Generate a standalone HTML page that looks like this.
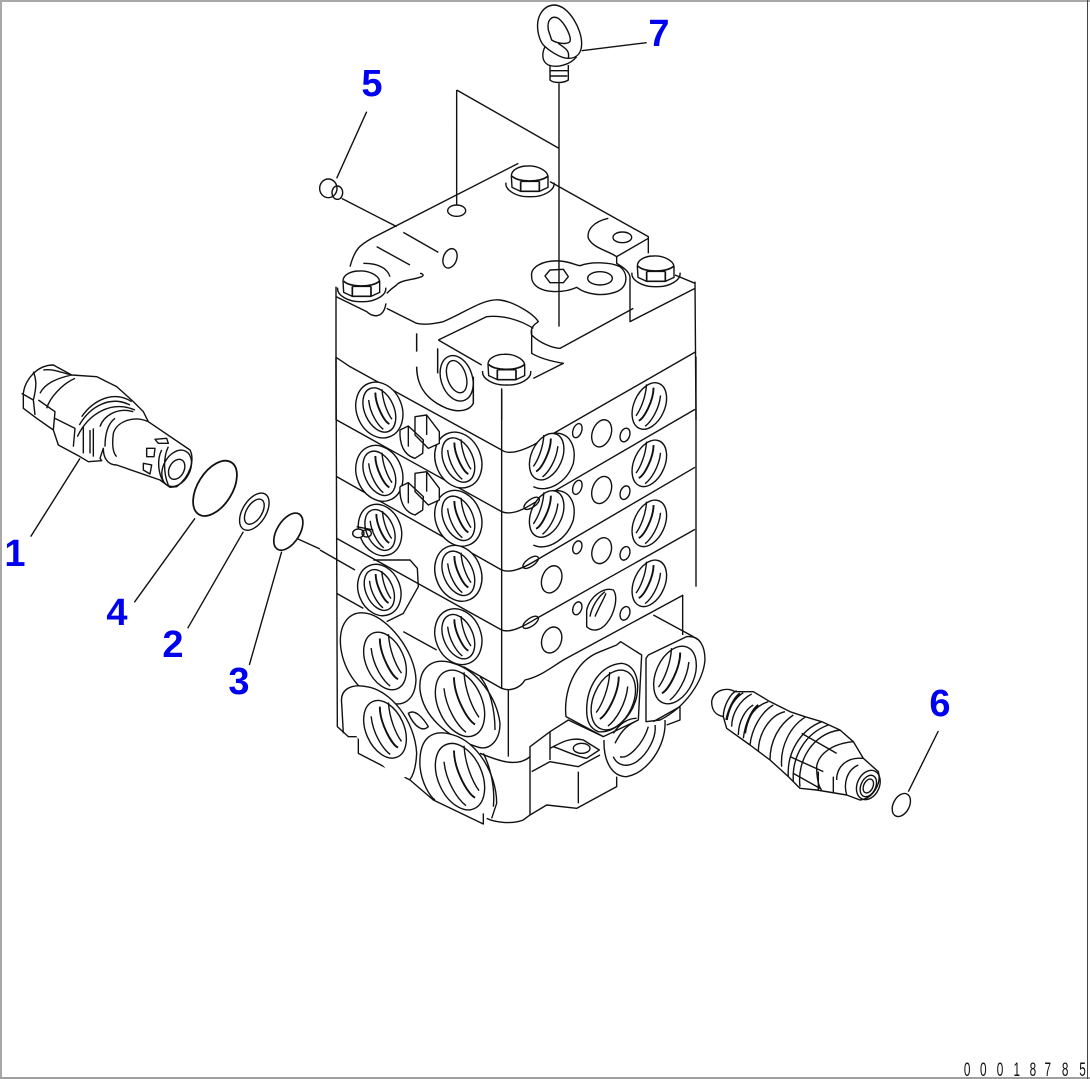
<!DOCTYPE html>
<html><head><meta charset="utf-8"><style>
html,body{margin:0;padding:0;background:#fff}
svg{display:block}
svg *{vector-effect:non-scaling-stroke}
.l{fill:none;stroke:#111;stroke-width:1.4px;stroke-linejoin:round}
.n{font-family:"Liberation Sans",sans-serif;font-weight:bold;font-size:38px;fill:#0000f0;text-anchor:middle}
</style></head><body>
<svg width="1090" height="1079" viewBox="0 0 1090 1079" xmlns="http://www.w3.org/2000/svg">
<defs>
<g id="I"><ellipse rx="44" ry="70" transform="rotate(-24)" fill="#fff"/><path d="M-32,-30 C-28,10 -5,45 12,58 M-12,-52 C-12,-15 15,35 30,42 M8,-62 C10,-25 25,10 38,28" /><path d="M-12,-52 C-12,-15 15,35 30,42" stroke-width="1.9px"/></g>
<g id="L"><ellipse rx="68" ry="86" transform="rotate(-22)" fill="#fff"/><use href="#I"/></g>
<g id="B"><path d="M-72,8 C-76,30 -40,52 0,50 C40,52 76,30 72,8" /><path fill="#fff" d="M-56,-12 C-56,-32 -30,-42 -8,-42 C20,-44 50,-30 54,-12 L54,22 L28,34 L-28,34 L-54,22Z"/><path d="M-54,-12 C-40,6 30,10 54,-12 M-28,4 L-28,34 M28,4 L28,34 M-28,4 L28,4 M-28,34 L28,34" stroke-width="1.7px"/></g>
</defs>
<rect width="1090" height="1079" fill="#fff"/>
<rect x="0" y="0" width="1090" height="2" fill="#a8a8a8"/>
<rect x="0" y="0" width="2" height="1079" fill="#a8a8a8"/>
<rect x="0" y="1077" width="1090" height="2" fill="#a0a0a0"/>
<rect x="1087" y="0" width="1" height="1079" fill="#444"/>

<g class="l">
<!-- BODY -->
<g transform="translate(320,360) scale(.33333)">
<path d="M48,-8 L52,1100 L85,1130 L115,1130 L115,1180 L270,1260 L340,1320 L490,1392 L490,1360 M500,1375 C520,1385 570,1395 610,1380 L630,1365 L680,1335 L770,1345 L890,1280 L890,1250"/>
<path d="M545,90 L545,985 M1128,-10 L1128,680 M1088,705 L1088,825"/>
<path d="M48,-8 L90,20 L545,270 C565,285 600,275 640,255 L1128,-25"/>
<path d="M50,180 L545,455 C570,465 600,455 640,430 L1125,148"/>
<path d="M50,350 L545,630 C570,640 610,625 650,600 L1125,322"/>
<path d="M50,535 L545,810 C570,820 610,800 650,775 L1125,508"/>
<path d="M50,700 L130,745 M250,815 L350,870 M430,920 L545,985 C570,995 600,985 615,960 C660,950 690,925 730,900 L1090,705"/>
<path d="M0,570 L105,630"/>
<path d="M1000,765 L1120,830"/>

<use href="#L" transform="translate(178,150)"/>
<use href="#L" transform="translate(178,340)"/>
<use href="#L" transform="translate(180,510) scale(.92)"/>
<use href="#L" transform="translate(178,690) scale(.92)"/>
<use href="#L" transform="translate(415,300)"/>
<use href="#L" transform="translate(415,475)"/>
<use href="#L" transform="translate(415,640)"/>
<use href="#L" transform="translate(415,830)"/>

<!-- big ports -->
<path fill="#fff" d="M62,860 C55,790 90,750 140,760 C200,770 285,870 288,960 C285,1020 250,1045 200,1025 C120,1010 70,930 62,860Z"/>
<use href="#I" transform="translate(195,903) scale(1.3)"/>
<path fill="#fff" stroke="none" d="M75,1030 C60,990 90,970 140,980 C210,990 285,1080 290,1180 C285,1240 260,1265 220,1250 L110,1130Z"/>
<path d="M70,1120 L65,1030 C60,990 90,970 140,980 C210,990 285,1080 290,1180 C288,1220 280,1245 270,1258"/>
<use href="#I" transform="translate(195,1108) scale(1.3)"/>
<path fill="#fff" d="M300,990 C295,920 340,890 400,910 C470,930 530,1010 540,1090 C540,1140 510,1175 470,1160 C380,1130 310,1070 300,990Z"/>
<path d="M480,950 C510,985 525,1050 525,1110"/>
<use href="#I" transform="translate(420,1030) scale(1.5)"/>
<path fill="#fff" d="M300,1220 C295,1130 340,1105 400,1125 C470,1145 530,1240 530,1330 L515,1375 M300,1220 C305,1270 330,1310 345,1320"/>
<path d="M490,1180 C515,1230 525,1290 520,1340"/>
<use href="#I" transform="translate(420,1250) scale(1.5)"/>
<path d="M265,1060 C285,1045 310,1075 325,1100 C310,1115 285,1105 265,1060Z"/>

<!-- left small fittings -->
<path fill="#fff" d="M240,210 L265,198 L310,240 L308,280 L285,295 C250,285 238,250 240,210 M285,170 L320,165 L358,215 L358,250 L325,265 L285,225Z"/>
<path d="M265,198 L265,260 M320,165 L320,225"/>
<path fill="#fff" d="M240,380 L265,368 L310,410 L308,450 L285,465 C250,455 238,420 240,380 M285,340 L320,335 L358,385 L358,420 L325,435 L285,395Z"/>
<path d="M265,368 L265,430 M320,335 L320,395"/>
<path d="M110,500 L160,510"/>
<ellipse cx="115" cy="520" rx="17" ry="13" fill="#fff"/>
<ellipse cx="140" cy="520" rx="14" ry="11"/>
<path d="M160,600 L270,600 L292,625 L295,680 L250,760 L200,785"/>

<!-- right face ports -->
<use href="#I" transform="translate(988,138) scale(-1.05,1.05)"/>
<use href="#I" transform="translate(988,310) scale(-1.05,1.05)"/>
<use href="#I" transform="translate(988,490) scale(-1.05,1.05)"/>
<use href="#I" transform="translate(988,670) scale(-1.05,1.05)"/>
<use href="#I" transform="translate(680,290) scale(-1.05,1.05)"/>
<use href="#I" transform="translate(680,462) scale(-1.05,1.05)"/>
<path d="M700,220 C750,215 770,260 760,310 C740,370 680,400 640,380 M700,392 C750,387 770,430 760,480 C740,540 680,575 640,555"/>
<path fill="#fff" d="M800,800 L800,750 C810,710 850,680 880,690 C895,710 885,760 860,790 C840,815 815,815 800,800Z"/>
<path d="M810,770 C815,740 835,710 855,695 M825,770 C835,745 850,720 858,700"/>
<g>
<ellipse cx="845" cy="220" rx="28" ry="42" transform="rotate(20 845 220)"/>
<ellipse cx="915" cy="225" rx="14" ry="21" transform="rotate(20 915 225)"/>
<ellipse cx="772" cy="212" rx="13" ry="22" transform="rotate(20 772 212)"/>
<ellipse cx="845" cy="390" rx="28" ry="42" transform="rotate(20 845 390)"/>
<ellipse cx="915" cy="398" rx="14" ry="21" transform="rotate(20 915 398)"/>
<ellipse cx="772" cy="382" rx="13" ry="22" transform="rotate(20 772 382)"/>
<ellipse cx="845" cy="572" rx="28" ry="40" transform="rotate(20 845 572)"/>
<ellipse cx="915" cy="580" rx="14" ry="21" transform="rotate(20 915 580)"/>
<ellipse cx="772" cy="562" rx="13" ry="20" transform="rotate(20 772 562)"/>
<ellipse cx="695" cy="658" rx="29" ry="42" transform="rotate(20 695 658)"/>
<ellipse cx="695" cy="840" rx="29" ry="40" transform="rotate(20 695 840)"/>
<ellipse cx="772" cy="745" rx="13" ry="20" transform="rotate(20 772 745)"/>
<ellipse cx="915" cy="760" rx="14" ry="21" transform="rotate(20 915 760)"/>
<ellipse cx="635" cy="430" rx="12" ry="27" transform="rotate(55 635 430)"/>
<ellipse cx="632" cy="607" rx="12" ry="27" transform="rotate(55 632 607)"/>
<ellipse cx="632" cy="787" rx="12" ry="27" transform="rotate(55 632 787)"/>
</g>

<!-- bottom right manifold -->
<path fill="#fff" d="M738,1070 C730,1000 760,905 840,875 L890,855 L902,845 L965,885 L955,1080 L850,1130Z"/>
<path fill="#fff" d="M800,1050 C800,980 840,915 905,910 C945,915 960,960 950,1010 C935,1075 880,1120 835,1115 C810,1105 800,1085 800,1050Z"/>
<use href="#I" transform="translate(880,1020) scale(-1.35,1.35)"/>
<path fill="#fff" d="M978,895 L978,1085 L1020,1080 C1100,1040 1150,960 1155,900 C1155,860 1140,825 1100,830 L985,885Z"/>
<path d="M1000,1085 L1080,1040 L1080,1080 L1040,1095"/>
<use href="#I" transform="translate(1065,945) scale(-1.3,1.3)"/>
<path d="M852,1140 C850,1210 880,1250 920,1250 C980,1240 1040,1160 1035,1080 M950,1075 C925,1075 900,1090 880,1120"/>
<path d="M880,1190 C890,1215 920,1225 950,1205 C985,1180 1010,1130 1005,1095 M900,1190 C925,1200 970,1150 985,1100 M885,1150 C900,1120 915,1100 945,1085"/>
<path d="M630,1365 L630,1160 L690,1115 L745,1080 L850,1130 M690,1115 L690,1200 M635,1235 L690,1205 L775,1220 L840,1185"/>
<path d="M690,1165 C720,1150 750,1130 790,1140 L838,1170 L800,1195 C770,1190 730,1170 700,1160"/>
<ellipse cx="785" cy="1165" rx="25" ry="15"/>
<path d="M775,1235 L775,1330 M565,990 L565,1190 M480,1180 C530,1200 590,1225 630,1190" />
</g>

<!-- TOP -->
<g transform="translate(300,0) scale(.33333)">
<path d="M715,100 C705,50 730,15 765,15 C810,20 845,90 845,130 C845,160 830,175 805,175 C780,175 745,150 730,135 C722,125 718,115 715,100Z"/>
<path d="M745,90 C740,60 755,45 775,55 C795,70 815,110 810,125 C800,135 770,130 755,120 Z"/>
<path d="M735,140 C725,160 725,185 745,195 C770,205 810,195 830,170 M775,130 C795,145 810,150 805,175"/>
<path d="M750,195 L750,240 C760,250 790,250 805,240 L805,195 M750,212 L805,212 M752,228 L802,228"/>
<path d="M1040,128 L845,152 M777,250 L777,980 M470,270 L470,615 M470,270 L777,445"/>
<ellipse cx="470" cy="632" rx="27" ry="17"/>
<path d="M150,800 C165,745 180,735 215,715 L655,490 M750,545 L1045,710 L1045,760 M950,770 L1045,715"/>
<path d="M925,655 C880,665 860,690 865,715 C880,745 920,750 950,770 L950,790 C965,800 985,810 990,830"/>
<ellipse cx="967" cy="712" rx="28" ry="16"/>
<path fill="#fff" d="M695,830 C690,800 730,780 780,783 C810,785 825,795 840,797 C870,785 930,785 960,800 C985,820 985,860 950,875 C910,890 860,885 830,862 C790,880 730,880 705,855 C697,845 695,840 695,830Z"/>
<path d="M777,783 L777,875 M735,828 L750,810 L790,808 L805,830 L790,848 L750,848Z"/>
<ellipse cx="900" cy="835" rx="37" ry="20"/>
<path d="M990,830 L990,965 L1185,865 M1185,845 L1188,1260 M1125,825 L1185,850 M1000,925 L780,1045 C760,1045 720,1030 695,1005 C690,985 700,975 715,965 C700,940 640,905 600,900 C550,895 500,935 430,965 C400,972 370,975 350,970 L260,925 M108,860 L108,1260 M108,890 L200,935 C215,950 250,960 258,910"/>
<path d="M230,740 L330,795 M290,855 C300,840 340,840 365,830 C375,825 365,820 360,820 M290,855 C275,865 265,875 260,880 M270,830 C260,800 230,790 190,790"/>
<path d="M125,595 L290,680 M310,697 L415,757"/>
<ellipse cx="450" cy="775" rx="20" ry="30" transform="rotate(20 450 775)"/>
<ellipse cx="85" cy="565" rx="26" ry="28"/><ellipse cx="112" cy="578" rx="16" ry="20"/>
<path d="M110,535 L200,335"/>
<path d="M415,1020 L545,1095 M415,1020 L560,950 C610,945 660,960 700,985 M695,990 L695,1060 C720,1075 760,1085 790,1090 L780,1095 L700,1135"/>
<path d="M350,1000 L350,1055 M350,1100 C350,1160 380,1200 440,1225 C480,1240 510,1230 520,1210 L520,1130 M413,1045 L413,1120" stroke-width="1.5px"/>
<ellipse cx="470" cy="1130" rx="28" ry="50" transform="rotate(-18 470 1130)"/>
<ellipse cx="470" cy="1135" rx="47" ry="70" transform="rotate(-18 470 1135)"/>
<use href="#B" transform="translate(690,540)"/>
<use href="#B" transform="translate(185,855)"/>
<use href="#B" transform="translate(1068,810)"/>
<use href="#B" transform="translate(620,1105)"/>
<path d="M605,1165 L605,1260"/>
</g>

<!-- VALVE 1 -->
<g transform="translate(0,350) scale(.33333)">
<path d="M70,130 C75,90 110,45 160,45 L215,75 L290,80 L350,110 L400,155 L430,185 L445,215 L570,300 C585,330 570,380 530,410 L510,412 L480,390 L350,345 C320,345 310,320 310,295 L300,325 L305,332 L265,335 L240,320 L175,285 L160,240 L110,205 L70,175Z"/>
<path d="M100,65 C110,90 110,110 100,150 L105,195 M65,130 L100,150 M130,60 C160,55 190,70 215,75 M120,130 C135,100 170,85 215,75 M115,150 L165,185 L160,240 M165,205 L225,235 L220,290 M140,175 C150,140 190,100 225,85"/>
<path d="M245,200 C280,150 340,120 395,155 M238,225 C270,170 330,135 390,165 M232,260 C265,190 335,150 405,180 M250,230 L250,310 M270,240 L270,310 M280,235 L280,320 M300,230 C310,200 350,170 400,185"/>
<path d="M340,250 C350,215 400,195 445,215 M340,250 C335,290 340,310 350,320 M315,290 C315,250 325,220 345,205"/>
<ellipse cx="530" cy="355" rx="40" ry="58" transform="rotate(28 530 355)"/>
<ellipse cx="530" cy="358" rx="22" ry="32" transform="rotate(28 530 358)"/>
<path d="M485,300 C470,330 475,370 490,395 M505,290 C490,320 490,370 505,405"/>
<path d="M465,268 L500,265 L505,280 L475,280Z M440,295 L465,295 L462,320 L440,320Z M430,340 L455,345 L450,372 L430,360Z"/>
<path d="M240,325 L92,560"/>
<ellipse cx="645" cy="415" rx="52" ry="92" transform="rotate(32 645 415)" stroke-width="1.8px"/>
<ellipse cx="763" cy="485" rx="35" ry="62" transform="rotate(32 763 485)"/>
<ellipse cx="763" cy="485" rx="23" ry="42" transform="rotate(32 763 485)"/>
<ellipse cx="865" cy="545" rx="34" ry="62" transform="rotate(32 865 545)" stroke-width="1.7px"/>
<path d="M585,505 L403,757 M730,545 L563,835 M845,605 L748,945 M890,565 L960,597"/>
</g>

<!-- VALVE 2 -->
<g transform="translate(690,670) scale(.33333)">
<path d="M65,95 C70,60 110,50 135,65 L190,65 L240,95 L300,125 L345,140 L395,155 L450,180 L490,215 L520,265 L565,305 C575,340 550,385 510,390 L470,375 L380,360 L330,355 L295,320 L240,270 L180,225 L110,175 L100,140 C75,135 65,120 65,95Z"/>
<path d="M100,140 C100,110 120,70 140,62 M108,150 C115,110 140,80 160,68 M125,170 C125,130 150,90 185,72 M145,195 C145,150 170,115 190,105 M160,205 C165,160 185,110 235,95 M180,225 C185,175 215,125 250,105 M205,245 C205,190 240,135 285,125 M240,270 C240,215 265,165 310,135" />
<path d="M165,190 C170,150 190,115 205,105 M110,150 C115,120 130,85 150,70" stroke-width="2.2px"/>
<path d="M275,290 C270,230 300,170 345,142 M295,320 C290,250 330,180 395,155 M310,335 C305,260 345,190 415,165 M330,350 C320,270 370,190 450,180"/>
<path d="M335,190 L440,250 M300,260 L400,305 M310,310 L390,355 M385,305 L385,360 M430,320 L430,370"/>
<path d="M380,290 C385,250 430,220 490,215 M380,290 C380,320 385,350 395,360 M440,330 C440,290 470,260 520,265 M470,375 C460,340 470,300 505,285"/>
<ellipse cx="535" cy="345" rx="33" ry="46" transform="rotate(25 535 345)"/>
<ellipse cx="535" cy="348" rx="14" ry="22" transform="rotate(25 535 348)"/>
<ellipse cx="535" cy="348" rx="22" ry="34" transform="rotate(25 535 348)"/>
<ellipse cx="634" cy="405" rx="24" ry="37" transform="rotate(28 634 405)"/>
<path d="M655,365 L745,183"/>
</g>
</g>

<text class="n" x="372" y="96">5</text>
<text class="n" x="659" y="46">7</text>
<text class="n" x="15" y="566">1</text>
<text class="n" x="117" y="625">4</text>
<text class="n" x="173" y="657">2</text>
<text class="n" x="239" y="694">3</text>
<text class="n" x="940" y="716">6</text>
<g transform="scale(.62,1)">
<text x="1560 1586 1613 1640 1666 1690 1718 1746" y="1076" font-family="Liberation Sans, sans-serif" font-size="19" fill="#111" text-anchor="middle">00018785</text>
</g>
</svg>
</body></html>
